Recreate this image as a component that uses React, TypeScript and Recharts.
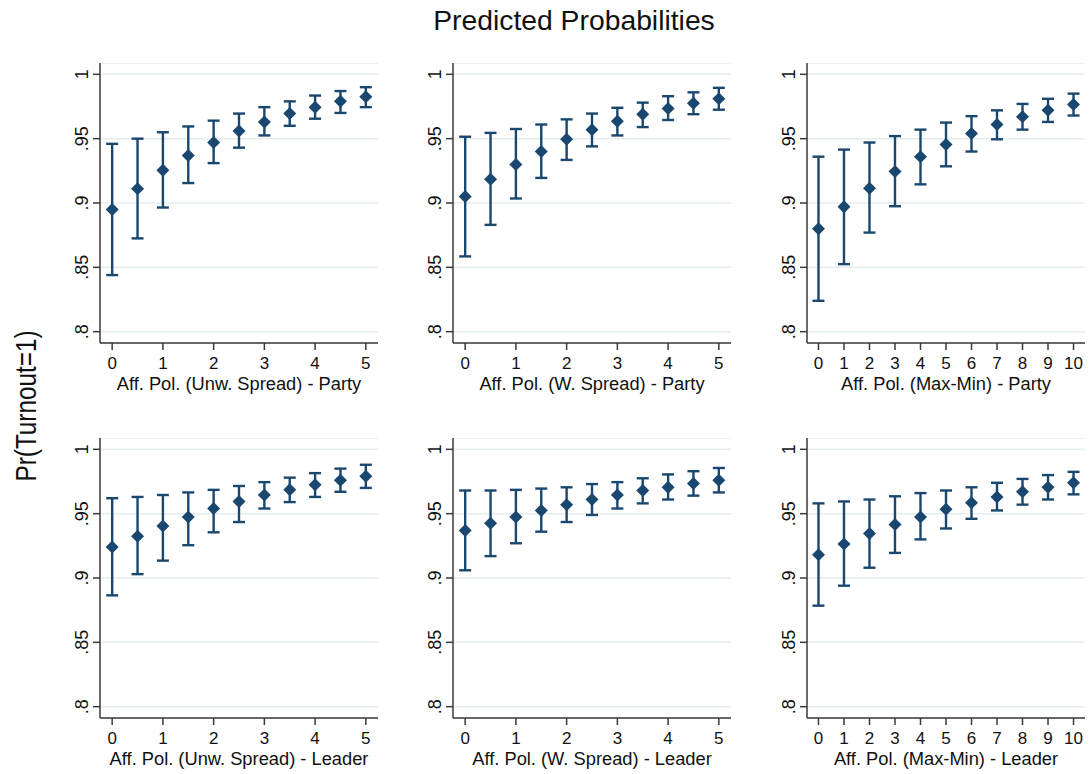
import { ScatterChart, Scatter, XAxis, YAxis, CartesianGrid, ErrorBar, Label } from 'recharts';

const spreadX = [0, 0.5, 1, 1.5, 2, 2.5, 3, 3.5, 4, 4.5, 5];
const maxMinX = [0, 1, 2, 3, 4, 5, 6, 7, 8, 9, 10];
const spreadTicks = [0, 1, 2, 3, 4, 5];
const maxMinTicks = [0, 1, 2, 3, 4, 5, 6, 7, 8, 9, 10];
const yTicks = [0.8, 0.85, 0.9, 0.95, 1];
const yTickLabels = ['.8', '.85', '.9', '.95', '1'];

// Party panels
const unwPartyMean = [0.895, 0.911, 0.9255, 0.937, 0.947, 0.956, 0.963, 0.9695, 0.9745, 0.979, 0.9825];
const unwPartyLo = [0.844, 0.8725, 0.8965, 0.9155, 0.931, 0.943, 0.9525, 0.96, 0.9655, 0.97, 0.9745];
const unwPartyHi = [0.946, 0.95, 0.955, 0.9595, 0.964, 0.9695, 0.9745, 0.979, 0.9835, 0.987, 0.99];

const wPartyMean = [0.905, 0.9185, 0.93, 0.94, 0.9495, 0.957, 0.9635, 0.969, 0.9735, 0.9775, 0.981];
const wPartyLo = [0.8585, 0.883, 0.9035, 0.9195, 0.9335, 0.944, 0.9525, 0.959, 0.9645, 0.969, 0.9725];
const wPartyHi = [0.9515, 0.9545, 0.9575, 0.961, 0.965, 0.9695, 0.974, 0.978, 0.983, 0.986, 0.9895];

const mmPartyMean = [0.88, 0.897, 0.9115, 0.9245, 0.936, 0.9455, 0.954, 0.961, 0.967, 0.972, 0.9765];
const mmPartyLo = [0.824, 0.8525, 0.877, 0.8975, 0.9145, 0.9285, 0.94, 0.9495, 0.957, 0.963, 0.968];
const mmPartyHi = [0.936, 0.9415, 0.947, 0.952, 0.957, 0.9625, 0.9675, 0.972, 0.977, 0.981, 0.985];

// Leader panels
const unwLeaderMean = [0.924, 0.9325, 0.9405, 0.9475, 0.954, 0.9595, 0.9645, 0.9685, 0.9725, 0.976, 0.979];
const unwLeaderLo = [0.8865, 0.903, 0.9135, 0.9255, 0.9355, 0.9435, 0.954, 0.959, 0.963, 0.967, 0.97];
const unwLeaderHi = [0.962, 0.963, 0.9645, 0.9665, 0.9685, 0.9715, 0.9745, 0.978, 0.9815, 0.985, 0.988];

const wLeaderMean = [0.937, 0.9425, 0.9475, 0.9525, 0.957, 0.961, 0.9645, 0.968, 0.9705, 0.9735, 0.976];
const wLeaderLo = [0.906, 0.917, 0.927, 0.936, 0.9435, 0.949, 0.954, 0.958, 0.961, 0.964, 0.9665];
const wLeaderHi = [0.968, 0.968, 0.9685, 0.9695, 0.9705, 0.973, 0.9745, 0.9775, 0.9805, 0.983, 0.9855];

const mmLeaderMean = [0.918, 0.9265, 0.9345, 0.9415, 0.9475, 0.9535, 0.9585, 0.963, 0.967, 0.9705, 0.974];
const mmLeaderLo = [0.8785, 0.894, 0.908, 0.9195, 0.93, 0.9385, 0.946, 0.9525, 0.957, 0.961, 0.965];
const mmLeaderHi = [0.958, 0.9595, 0.961, 0.9635, 0.966, 0.968, 0.9705, 0.974, 0.977, 0.98, 0.9825];

const NAVY = '#1a476f';
const FONT = '"Liberation Sans", Arial, Helvetica, sans-serif';
const AXIS = '#3a3a3a';

const Diamond = (props: any) => {
  const { cx, cy } = props;
  const r = 6.5;
  return <polygon points={`${cx},${cy - r} ${cx + r},${cy} ${cx},${cy + r} ${cx - r},${cy}`} fill={NAVY} />;
};

const YTick = (props: any) => {
  const { x, y, payload } = props;
  const i = yTicks.indexOf(payload.value);
  return (
    <text x={x} y={y} transform={`rotate(-90 ${x} ${y})`} textAnchor="middle" fontSize={18} fill="#111" fontFamily={FONT}>
      {yTickLabels[i]}
    </text>
  );
};

interface PanelProps {
  xs: number[];
  mean: number[];
  lo: number[];
  hi: number[];
  xTicks: number[];
  xDomain: [number, number];
  label: string;
  left: number;
  top: number;
}

function Panel({ xs, mean, lo, hi, xTicks, xDomain, label, left, top }: PanelProps) {
  const data = xs.map((x, i) => ({ x, y: mean[i], err: [mean[i] - lo[i], hi[i] - mean[i]] }));
  return (
    <div style={{ position: 'absolute', left, top }}>
      <ScatterChart width={318} height={335} margin={{ top: 0, right: 0, bottom: 0, left: 0 }}>
        <CartesianGrid horizontal vertical={false} stroke="#e4edf0" strokeWidth={1.5} />
        <XAxis
          type="number"
          dataKey="x"
          domain={xDomain}
          ticks={xTicks}
          allowDataOverflow
          height={55}
          tickSize={7}
          tickMargin={7}
          stroke={AXIS}
          strokeWidth={1.5}
          tick={{ fontSize: 17, fill: '#111', fontFamily: FONT }}
        >
          <Label value={label} position="insideBottom" offset={8} style={{ fontSize: 18.3, fill: '#111', fontFamily: FONT }} />
        </XAxis>
        <YAxis
          type="number"
          dataKey="y"
          domain={[0.7912, 1.0088]}
          ticks={yTicks}
          allowDataOverflow
          width={40}
          tickSize={7}
          tickMargin={5}
          stroke={AXIS}
          strokeWidth={1.5}
          tick={<YTick />}
        />
        <Scatter data={data} fill={NAVY} shape={<Diamond />} isAnimationActive={false}>
          <ErrorBar dataKey="err" direction="y" width={6} stroke={NAVY} strokeWidth={2.4} isAnimationActive={false} />
        </Scatter>
      </ScatterChart>
    </div>
  );
}

export default function App() {
  const spreadDomain: [number, number] = [-0.24, 5.24];
  const mmDomain: [number, number] = [-0.45, 10.45];
  return (
    <div style={{ position: 'absolute', left: 0, top: 0, width: 1089, height: 774, background: '#fff', fontFamily: FONT }}>
      <svg width={1089} height={774} style={{ position: 'absolute', left: 0, top: 0 }}>
        <text x={574} y={30} textAnchor="middle" fontSize={28.3} fill="#111" fontFamily={FONT}>
          Predicted Probabilities
        </text>
        <text
          x={0}
          y={0}
          transform="translate(35.5 406) rotate(-90) scale(1 1.25)"
          textAnchor="middle"
          fontSize={24.3}
          fill="#111"
          fontFamily={FONT}
        >
          Pr(Turnout=1)
        </text>
      </svg>
      <Panel xs={spreadX} mean={unwPartyMean} lo={unwPartyLo} hi={unwPartyHi} xTicks={spreadTicks} xDomain={spreadDomain}
        label="Aff. Pol. (Unw. Spread) - Party" left={60} top={63} />
      <Panel xs={spreadX} mean={wPartyMean} lo={wPartyLo} hi={wPartyHi} xTicks={spreadTicks} xDomain={spreadDomain}
        label="Aff. Pol. (W. Spread) - Party" left={413} top={63} />
      <Panel xs={maxMinX} mean={mmPartyMean} lo={mmPartyLo} hi={mmPartyHi} xTicks={maxMinTicks} xDomain={mmDomain}
        label="Aff. Pol. (Max-Min) - Party" left={767} top={63} />
      <Panel xs={spreadX} mean={unwLeaderMean} lo={unwLeaderLo} hi={unwLeaderHi} xTicks={spreadTicks} xDomain={spreadDomain}
        label="Aff. Pol. (Unw. Spread) - Leader" left={60} top={438} />
      <Panel xs={spreadX} mean={wLeaderMean} lo={wLeaderLo} hi={wLeaderHi} xTicks={spreadTicks} xDomain={spreadDomain}
        label="Aff. Pol. (W. Spread) - Leader" left={413} top={438} />
      <Panel xs={maxMinX} mean={mmLeaderMean} lo={mmLeaderLo} hi={mmLeaderHi} xTicks={maxMinTicks} xDomain={mmDomain}
        label="Aff. Pol. (Max-Min) - Leader" left={767} top={438} />
    </div>
  );
}
